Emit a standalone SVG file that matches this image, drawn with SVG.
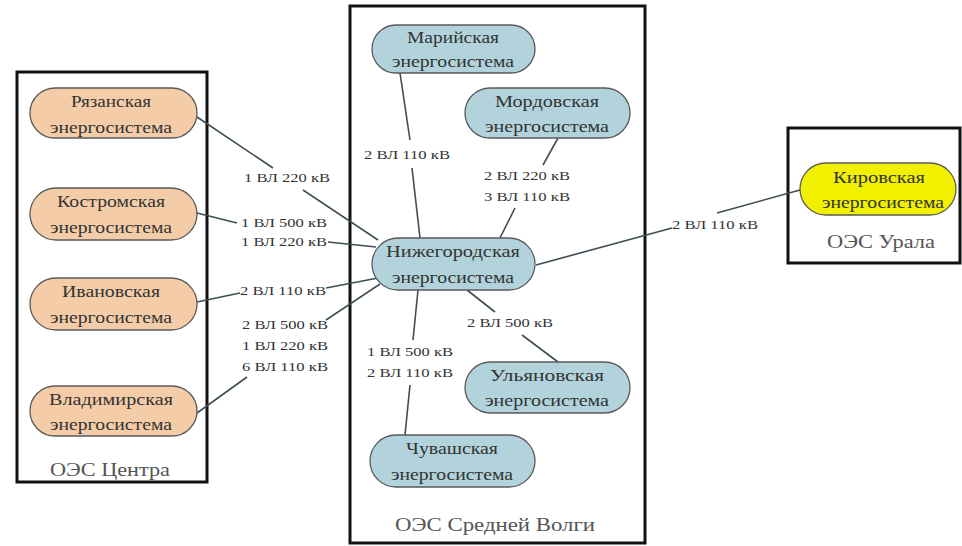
<svg xmlns="http://www.w3.org/2000/svg" width="962" height="546" viewBox="0 0 962 546" font-family="'Liberation Serif', 'DejaVu Serif', serif">
<style>
.box{fill:#fff;stroke:#111;stroke-width:3}
.org{fill:#F4CDA8;stroke:#5a5a5a;stroke-width:1.3}
.blu{fill:#B2D3DB;stroke:#5a5a5a;stroke-width:1.3}
.yel{fill:#F0F000;stroke:#5a5a5a;stroke-width:1.3}
.nt{font-size:16px;fill:#333;text-anchor:middle}
.el{font-size:13px;fill:#333;text-anchor:middle}
.bl{font-size:19px;fill:#555;text-anchor:middle}
.c{fill:none;stroke:#3e4e55;stroke-width:1.6}
</style>
<rect width="962" height="546" fill="#fff"/>
<g id="box-center"><rect class="box" x="17" y="72" width="190" height="410"/><text class="bl" x="110" y="476" textLength="120" lengthAdjust="spacingAndGlyphs">ОЭС Центра</text></g>
<g id="box-volga"><rect class="box" x="350" y="6" width="295" height="537"/><text class="bl" x="495" y="531" textLength="200" lengthAdjust="spacingAndGlyphs">ОЭС Средней Волги</text></g>
<g id="box-ural"><rect class="box" x="788" y="128" width="172" height="135"/><text class="bl" x="881" y="248" textLength="108" lengthAdjust="spacingAndGlyphs">ОЭС Урала</text></g>

<g id="connectors">
<polyline class="c" points="197,117 273,168"/>
<polyline class="c" points="303,190 378,240"/>
<polyline class="c" points="197,213 237,223"/>
<polyline class="c" points="328,242 376,247"/>
<polyline class="c" points="197,302 240,293"/>
<polyline class="c" points="326,288 378,278"/>
<polyline class="c" points="197,413 247,377"/>
<polyline class="c" points="326,320 380,284"/>
<polyline class="c" points="400,73 410,140"/>
<polyline class="c" points="412,168 420,238"/>
<polyline class="c" points="558,138 543,165"/>
<polyline class="c" points="515,208 500,238"/>
<polyline class="c" points="536,265 672,228"/>
<polyline class="c" points="717,213 800,190"/>
<polyline class="c" points="467,290 495,312"/>
<polyline class="c" points="522,335 558,362"/>
<polyline class="c" points="418,290 413,340"/>
<polyline class="c" points="410,385 405,435"/>
<text class="el" x="287" y="182" textLength="86" lengthAdjust="spacingAndGlyphs">1 ВЛ 220 кВ</text>
<text class="el" x="284" y="227" textLength="86" lengthAdjust="spacingAndGlyphs">1 ВЛ 500 кВ</text>
<text class="el" x="284" y="246" textLength="86" lengthAdjust="spacingAndGlyphs">1 ВЛ 220 кВ</text>
<text class="el" x="283" y="295" textLength="86" lengthAdjust="spacingAndGlyphs">2 ВЛ 110 кВ</text>
<text class="el" x="285" y="329" textLength="86" lengthAdjust="spacingAndGlyphs">2 ВЛ 500 кВ</text>
<text class="el" x="285" y="350" textLength="86" lengthAdjust="spacingAndGlyphs">1 ВЛ 220 кВ</text>
<text class="el" x="285" y="371" textLength="86" lengthAdjust="spacingAndGlyphs">6 ВЛ 110 кВ</text>
<text class="el" x="407" y="159" textLength="86" lengthAdjust="spacingAndGlyphs">2 ВЛ 110 кВ</text>
<text class="el" x="527" y="180" textLength="86" lengthAdjust="spacingAndGlyphs">2 ВЛ 220 кВ</text>
<text class="el" x="527" y="201" textLength="86" lengthAdjust="spacingAndGlyphs">3 ВЛ 110 кВ</text>
<text class="el" x="715" y="229" textLength="86" lengthAdjust="spacingAndGlyphs">2 ВЛ 110 кВ</text>
<text class="el" x="510" y="327" textLength="86" lengthAdjust="spacingAndGlyphs">2 ВЛ 500 кВ</text>
<text class="el" x="410" y="356" textLength="86" lengthAdjust="spacingAndGlyphs">1 ВЛ 500 кВ</text>
<text class="el" x="410" y="377" textLength="86" lengthAdjust="spacingAndGlyphs">2 ВЛ 110 кВ</text>
</g>

<g id="ryazan"><rect class="org" x="30" y="88" width="167" height="50" rx="25"/><text class="nt" x="111" y="107" textLength="80" lengthAdjust="spacingAndGlyphs">Рязанская</text><text class="nt" x="111" y="133" textLength="122" lengthAdjust="spacingAndGlyphs">энергосистема</text></g>
<g id="kostroma"><rect class="org" x="30" y="188" width="167" height="52" rx="26"/><text class="nt" x="111" y="207" textLength="108" lengthAdjust="spacingAndGlyphs">Костромская</text><text class="nt" x="111" y="233" textLength="122" lengthAdjust="spacingAndGlyphs">энергосистема</text></g>
<g id="ivanovo"><rect class="org" x="30" y="278" width="167" height="52" rx="26"/><text class="nt" x="111" y="297" textLength="98" lengthAdjust="spacingAndGlyphs">Ивановская</text><text class="nt" x="111" y="323" textLength="122" lengthAdjust="spacingAndGlyphs">энергосистема</text></g>
<g id="vladimir"><rect class="org" x="30" y="386" width="167" height="50" rx="25"/><text class="nt" x="111" y="405" textLength="124" lengthAdjust="spacingAndGlyphs">Владимирская</text><text class="nt" x="111" y="430" textLength="122" lengthAdjust="spacingAndGlyphs">энергосистема</text></g>

<g id="mari"><rect class="blu" x="372" y="25" width="163" height="48" rx="24"/><text class="nt" x="453" y="43" textLength="92" lengthAdjust="spacingAndGlyphs">Марийская</text><text class="nt" x="453" y="67" textLength="122" lengthAdjust="spacingAndGlyphs">энергосистема</text></g>
<g id="mordov"><rect class="blu" x="465" y="88" width="165" height="50" rx="25"/><text class="nt" x="547" y="107" textLength="104" lengthAdjust="spacingAndGlyphs">Мордовская</text><text class="nt" x="547" y="132" textLength="124" lengthAdjust="spacingAndGlyphs">энергосистема</text></g>
<g id="nizhny"><rect class="blu" x="372" y="238" width="163" height="52" rx="26"/><text class="nt" x="453" y="257" textLength="134" lengthAdjust="spacingAndGlyphs">Нижегородская</text><text class="nt" x="453" y="283" textLength="122" lengthAdjust="spacingAndGlyphs">энергосистема</text></g>
<g id="ulyanovsk"><rect class="blu" x="465" y="362" width="165" height="51" rx="25.5"/><text class="nt" x="547" y="381" textLength="114" lengthAdjust="spacingAndGlyphs">Ульяновская</text><text class="nt" x="547" y="406" textLength="124" lengthAdjust="spacingAndGlyphs">энергосистема</text></g>
<g id="chuvash"><rect class="blu" x="370" y="435" width="165" height="52" rx="26"/><text class="nt" x="452" y="454" textLength="92" lengthAdjust="spacingAndGlyphs">Чувашская</text><text class="nt" x="452" y="480" textLength="122" lengthAdjust="spacingAndGlyphs">энергосистема</text></g>

<g id="kirov"><rect class="yel" x="800" y="163" width="156" height="52" rx="26"/><text class="nt" x="879" y="183" textLength="92" lengthAdjust="spacingAndGlyphs">Кировская</text><text class="nt" x="883" y="208" textLength="122" lengthAdjust="spacingAndGlyphs">энергосистема</text></g>
</svg>
